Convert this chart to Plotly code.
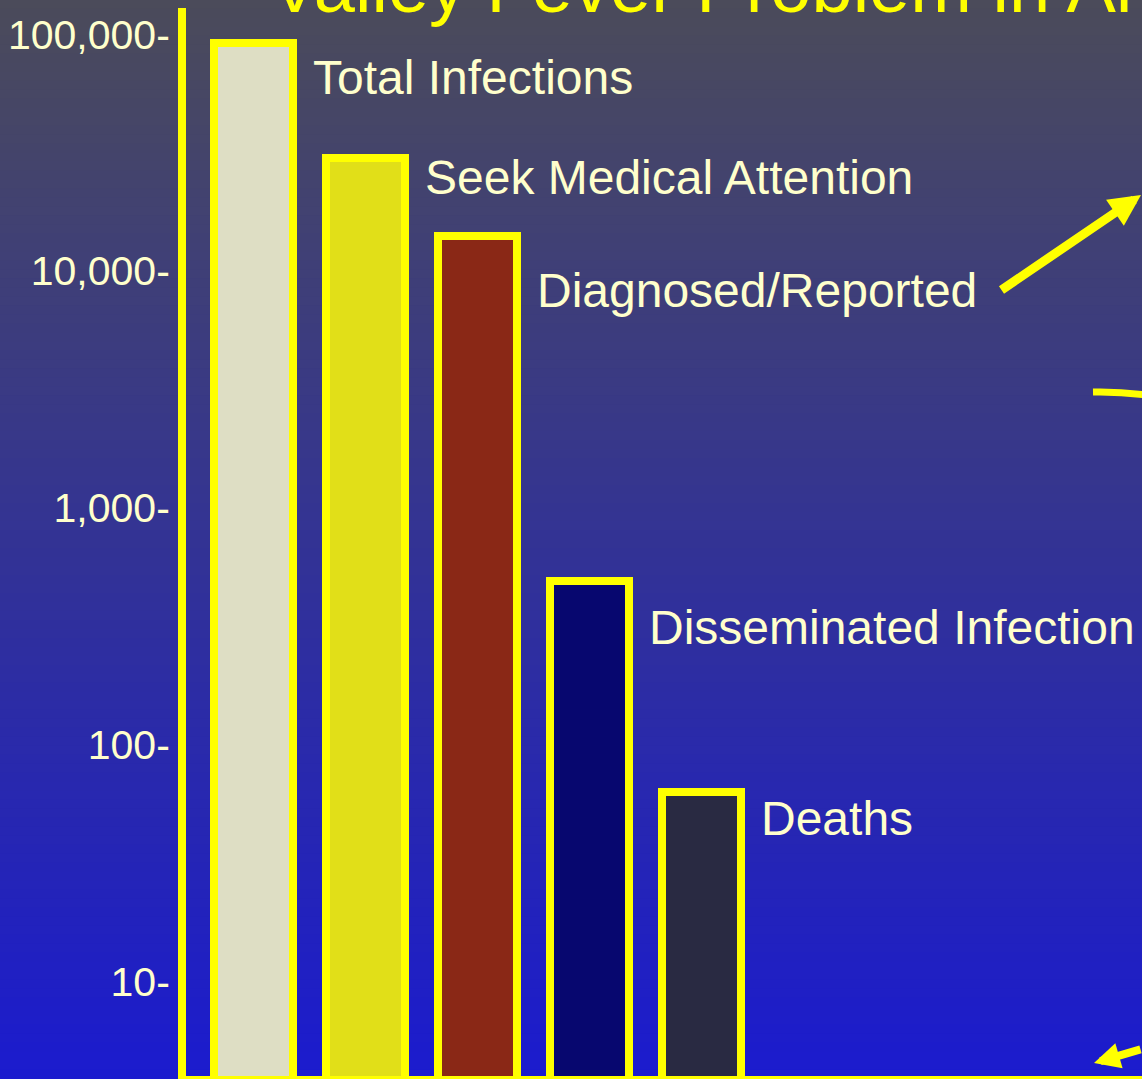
import numpy as np
import plotly.graph_objects as go

# ---- data ----
categories = ["Total Infections", "Seek Medical Attention", "Diagnosed/Reported",
              "Disseminated Infection", "Deaths"]
values = [92000, 30000, 14000, 490, 63]
tick_vals = [10, 100, 1000, 10000, 100000]
tick_text = ["10-", "100-", "1,000-", "10,000-", "100,000-"]
title_text = "Valley Fever Problem in Arizona"

# ---- styles ----
bar_colors = ["#DEDEC4", "#E1DF18", "#8A2816", "#07076F", "#292A42"]
label_dy = [35, 19, 54, 46, 26]        # pixel offset of label centre below bar top
YELLOW = "#FFFF00"
CREAM = "#FFFFCC"
FONT = "Liberation Sans, Arial, sans-serif"

W, H = 1142, 1079
ML, MR, MT, MB = 186, 0, 8, 3
PW, PH = W - ML - MR, H - MT - MB


def px2x(px):
    return (px - ML) / PW


def py2y(py):
    return (H - MB - py) / PH


xs = list(range(len(categories)))
bar_w = 0.71

fig = go.Figure()
fig.add_trace(go.Bar(
    x=xs, y=values, width=bar_w,
    marker=dict(color=bar_colors, line=dict(color=YELLOW, width=8)),
    hoverinfo="skip", showlegend=False,
))

# background gradient as stacked strips
shapes = []
top = np.array([75, 75, 90])
bot = np.array([27, 27, 206])
n = 120
for i in range(n):
    t = (i + 0.5) / n
    c = top + (bot - top) * t
    py_top = i * H / n
    py_bot = (i + 1) * H / n
    shapes.append(dict(
        type="rect", xref="paper", yref="paper", layer="below",
        x0=px2x(-5), x1=px2x(W + 5),
        y0=py2y(py_bot + 0.5), y1=py2y(py_top - 0.5),
        line=dict(width=0),
        fillcolor="rgb(%d,%d,%d)" % tuple(int(round(v)) for v in c),
    ))

# curved yellow line on right
x0c, y0c = px2x(1093), py2y(392)
xcc, ycc = px2x(1140), py2y(391)
x1c, y1c = px2x(1185), py2y(403)
shapes.append(dict(
    type="path", xref="paper", yref="paper", layer="above",
    path=f"M {x0c},{y0c} Q {xcc},{ycc} {x1c},{y1c}",
    line=dict(color=YELLOW, width=7),
))

annotations = []
# bar labels
for i, (cat, v) in enumerate(zip(categories, values)):
    annotations.append(dict(
        x=xs[i] + bar_w / 2, y=np.log10(v), xref="x", yref="y",
        text=cat, showarrow=False, xanchor="left", yanchor="middle",
        xshift=18, yshift=-label_dy[i],
        font=dict(family=FONT, size=48, color=CREAM),
    ))

# title (cut off at top)
annotations.append(dict(
    x=px2x(268), y=1, xref="paper", yref="paper", text=title_text,
    showarrow=False, xanchor="left", yanchor="bottom", yshift=-22,
    font=dict(family=FONT, size=74, color=YELLOW),
))

# arrows
annotations.append(dict(
    x=px2x(1160), y=py2y(195), xref="paper", yref="paper", text="",
    showarrow=True, arrowhead=2, arrowsize=0.7, arrowwidth=9, arrowcolor=YELLOW,
    ax=1000 - 1160, ay=291 - 195,
))
annotations.append(dict(
    x=px2x(1094), y=py2y(1063), xref="paper", yref="paper", text="",
    showarrow=True, arrowhead=2, arrowsize=0.65, arrowwidth=8, arrowcolor=YELLOW,
    ax=1210 - 1094, ay=1049 - 1063,
))

fig.update_layout(
    width=W, height=H,
    margin=dict(l=ML, r=MR, t=MT, b=MB, pad=0),
    paper_bgcolor="#33338F",
    plot_bgcolor="rgba(0,0,0,0)",
    shapes=shapes,
    annotations=annotations,
    bargap=0,
    xaxis=dict(
        range=[-67.5 / 112, -67.5 / 112 + PW / 112],
        showgrid=False, zeroline=False, showticklabels=False, ticks="",
        showline=True, linecolor=YELLOW, linewidth=8, fixedrange=True,
    ),
    yaxis=dict(
        type="log", range=[0.6005, 5.1106],
        tickvals=tick_vals, ticktext=tick_text, ticks="",
        tickfont=dict(family=FONT, size=41, color=CREAM),
        showgrid=False, zeroline=False,
        showline=True, linecolor=YELLOW, linewidth=8, fixedrange=True,
    ),
)

fig.write_html("out.html", config={"displayModeBar": False},
               post_script="document.body.style.margin='0';document.body.style.overflow='hidden';")
